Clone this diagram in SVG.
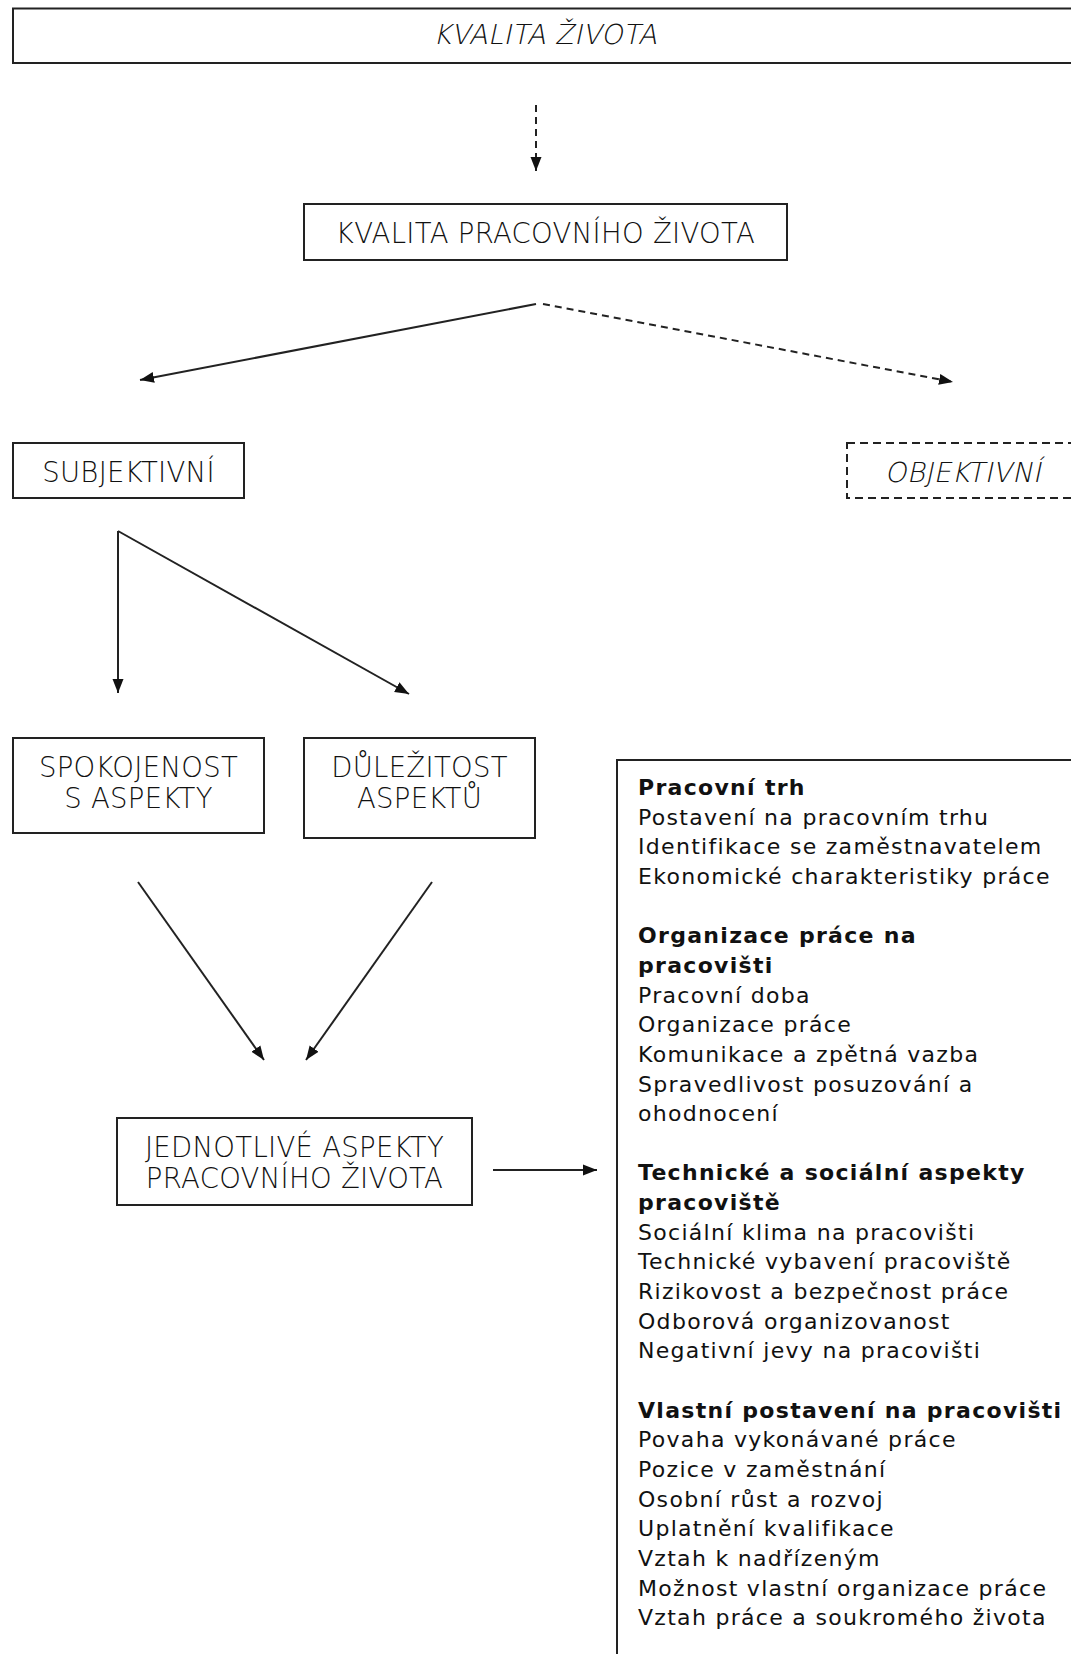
<svg xmlns="http://www.w3.org/2000/svg" width="1071" height="1654" viewBox="0 0 1071 1654">
<style>
.box{fill:#fff;stroke:#222;stroke-width:2}
.dbox{fill:#fff;stroke:#222;stroke-width:2;stroke-dasharray:8 5}
.lbl{font-family:"DejaVu Sans",Verdana,sans-serif;font-size:27.5px;font-weight:200;fill:#111;text-anchor:middle;letter-spacing:0.3px}
.ln{fill:none;stroke:#222;stroke-width:2}
.dl{fill:none;stroke:#222;stroke-width:2;stroke-dasharray:7 5}
.lst{font-family:"DejaVu Sans",Verdana,sans-serif;font-size:22px;letter-spacing:1.3px;fill:#111}
.hd{font-weight:bold}
</style>
<defs>
<marker id="ah" markerUnits="userSpaceOnUse" markerWidth="14" markerHeight="12" refX="14" refY="6" orient="auto">
<path d="M0,0.5 L14,6 L0,11.5 z" fill="#111"/>
</marker>
</defs>
<rect width="1071" height="1654" fill="#fff"/>

<g id="connectors">
<line class="dl" x1="536" y1="105" x2="536" y2="171" marker-end="url(#ah)"/>
<line class="ln" x1="536" y1="304" x2="140" y2="380" marker-end="url(#ah)"/>
<line class="dl" x1="543" y1="304" x2="953" y2="382" marker-end="url(#ah)"/>
<line class="ln" x1="118" y1="531" x2="118" y2="693" marker-end="url(#ah)"/>
<line class="ln" x1="118" y1="531" x2="409" y2="694" marker-end="url(#ah)"/>
<line class="ln" x1="138" y1="882" x2="264" y2="1060" marker-end="url(#ah)"/>
<line class="ln" x1="432" y1="882" x2="306" y2="1060" marker-end="url(#ah)"/>
<line class="ln" x1="493" y1="1170" x2="597" y2="1170" marker-end="url(#ah)"/>
</g>

<g id="n-kvalita-zivota">
<rect class="box" x="13" y="8.5" width="1080" height="54.5"/>
<text class="lbl" transform="translate(545,44) skewX(-12)" x="0" y="0">KVALITA ŽIVOTA</text>
</g>

<g id="n-kvalita-pracovniho">
<rect class="box" x="304" y="204" width="483" height="56"/>
<text class="lbl" x="545.5" y="243">KVALITA PRACOVNÍHO ŽIVOTA</text>
</g>

<g id="n-subjektivni">
<rect class="box" x="13" y="443" width="231" height="55"/>
<text class="lbl" x="128.5" y="482">SUBJEKTIVNÍ</text>
</g>

<g id="n-objektivni">
<rect class="dbox" x="847" y="443" width="260" height="55"/>
<text class="lbl" transform="translate(963,482) skewX(-12)" x="0" y="0">OBJEKTIVNÍ</text>
</g>

<g id="n-spokojenost">
<rect class="box" x="13" y="738" width="251" height="95"/>
<text class="lbl" x="138.5" y="777">SPOKOJENOST</text>
<text class="lbl" x="138.5" y="808">S ASPEKTY</text>
</g>

<g id="n-dulezitost">
<rect class="box" x="304" y="738" width="231" height="100"/>
<text class="lbl" x="419.5" y="777">DŮLEŽITOST</text>
<text class="lbl" x="419.5" y="808">ASPEKTŮ</text>
</g>

<g id="n-jednotlive">
<rect class="box" x="117" y="1118" width="355" height="87"/>
<text class="lbl" x="294.5" y="1157">JEDNOTLIVÉ ASPEKTY</text>
<text class="lbl" x="294.5" y="1188">PRACOVNÍHO ŽIVOTA</text>
</g>

<g id="n-aspekty-list">
<rect class="box" x="617" y="760" width="500" height="960"/>
<text class="lst hd" x="638" y="795">Pracovní trh</text>
<text class="lst" x="638" y="824.65">Postavení na pracovním trhu</text>
<text class="lst" x="638" y="854.3">Identifikace se zaměstnavatelem</text>
<text class="lst" x="638" y="883.95">Ekonomické charakteristiky práce</text>
<text class="lst hd" x="638" y="943.25">Organizace práce na</text>
<text class="lst hd" x="638" y="972.9">pracovišti</text>
<text class="lst" x="638" y="1002.55">Pracovní doba</text>
<text class="lst" x="638" y="1032.2">Organizace práce</text>
<text class="lst" x="638" y="1061.85">Komunikace a zpětná vazba</text>
<text class="lst" x="638" y="1091.5">Spravedlivost posuzování a</text>
<text class="lst" x="638" y="1121.15">ohodnocení</text>
<text class="lst hd" x="638" y="1180.45">Technické a sociální aspekty</text>
<text class="lst hd" x="638" y="1210.1">pracoviště</text>
<text class="lst" x="638" y="1239.75">Sociální klima na pracovišti</text>
<text class="lst" x="638" y="1269.4">Technické vybavení pracoviště</text>
<text class="lst" x="638" y="1299.05">Rizikovost a bezpečnost práce</text>
<text class="lst" x="638" y="1328.7">Odborová organizovanost</text>
<text class="lst" x="638" y="1358.35">Negativní jevy na pracovišti</text>
<text class="lst hd" x="638" y="1417.65">Vlastní postavení na pracovišti</text>
<text class="lst" x="638" y="1447.3">Povaha vykonávané práce</text>
<text class="lst" x="638" y="1476.95">Pozice v zaměstnání</text>
<text class="lst" x="638" y="1506.6">Osobní růst a rozvoj</text>
<text class="lst" x="638" y="1536.25">Uplatnění kvalifikace</text>
<text class="lst" x="638" y="1565.9">Vztah k nadřízeným</text>
<text class="lst" x="638" y="1595.55">Možnost vlastní organizace práce</text>
<text class="lst" x="638" y="1625.2">Vztah práce a soukromého života</text>
</g>
</svg>
